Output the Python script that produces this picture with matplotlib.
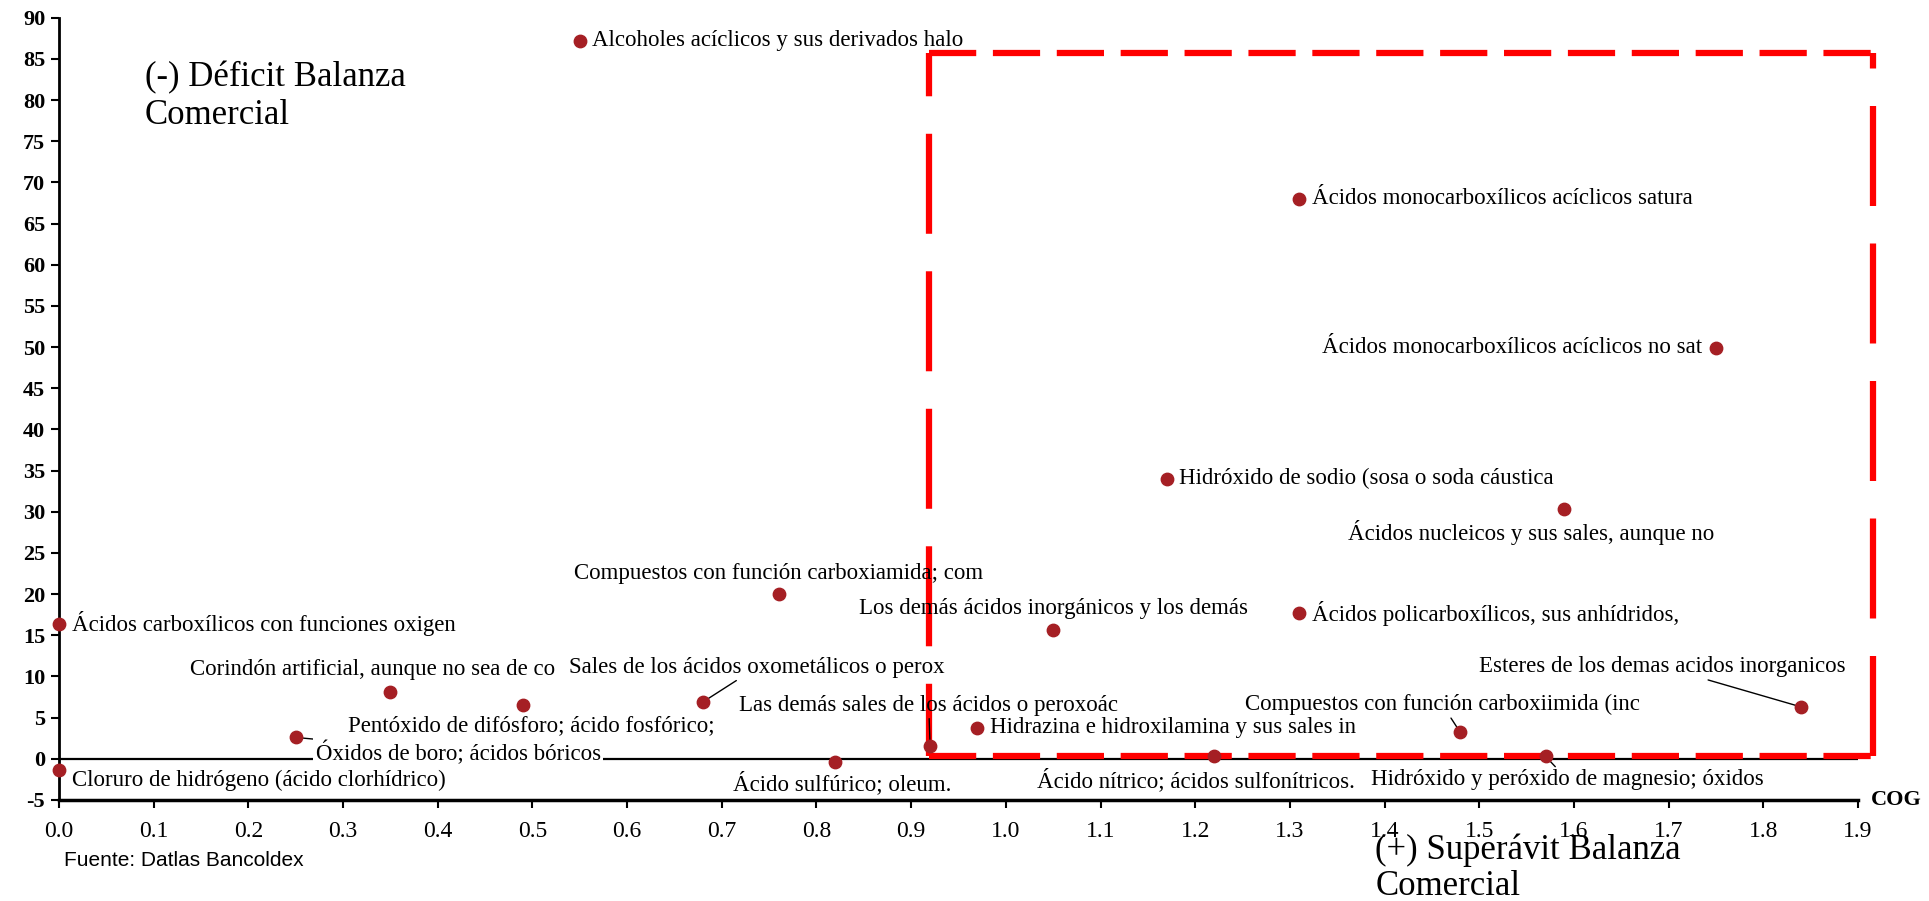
import matplotlib
matplotlib.use('Agg')
import matplotlib.pyplot as plt

# data
productos = [
    "Alcoholes acíclicos y sus derivados halo",
    "Ácidos monocarboxílicos acíclicos satura",
    "Ácidos monocarboxílicos acíclicos no sat",
    "Hidróxido de sodio (sosa o soda cáustica",
    "Ácidos nucleicos y sus sales, aunque no",
    "Compuestos con función carboxiamida; com",
    "Ácidos carboxílicos con funciones oxigen",
    "Ácidos policarboxílicos, sus anhídridos,",
    "Los demás ácidos inorgánicos y los demás",
    "Corindón artificial, aunque no sea de co",
    "Pentóxido de difósforo; ácido fosfórico;",
    "Sales de los ácidos oxometálicos o perox",
    "Esteres de los demas acidos inorganicos",
    "Hidrazina e hidroxilamina y sus sales in",
    "Compuestos con función carboxiimida (inc",
    "Óxidos de boro; ácidos bóricos",
    "Las demás sales de los ácidos o peroxoác",
    "Ácido nítrico; ácidos sulfonítricos.",
    "Hidróxido y peróxido de magnesio; óxidos",
    "Ácido sulfúrico; oleum.",
    "Cloruro de hidrógeno (ácido clorhídrico)",
]
cog = [0.55, 1.31, 1.75, 1.17, 1.59, 0.76, 0.0, 1.31, 1.05, 0.35, 0.49,
       0.68, 1.84, 0.97, 1.48, 0.25, 0.92, 1.22, 1.57, 0.82, 0.0]
balanza = [87.2, 68.0, 49.9, 34.0, 30.3, 20.0, 16.4, 17.7, 15.6, 8.1, 6.5,
           6.9, 6.3, 3.8, 3.2, 2.6, 1.6, 0.3, 0.3, -0.4, -1.3]

# label placement: (dx, dy) in points, ha, leader line
label_pos = [
    ((9, 0), 'left', False),
    ((9, 0), 'left', False),
    ((-10, 0), 'right', False),
    ((9, 0), 'left', False),
    ((-24, -17), 'center', False),
    ((0, 15), 'center', False),
    ((9, 0), 'left', False),
    ((9, 0), 'left', False),
    ((0, 16), 'center', False),
    ((-13, 16), 'center', False),
    ((6, -15), 'center', False),
    ((39, 25), 'center', True),
    ((-100, 29), 'center', True),
    ((9, 0), 'left', False),
    ((-13, 20), 'center', True),
    ((117, -11), 'center', True),
    ((-1, 29), 'center', True),
    ((-13, -17), 'center', False),
    ((16, -17), 'center', True),
    ((5, -15), 'center', False),
    ((9, -8), 'left', False),
]

x_ticks = [i / 10 for i in range(20)]
y_ticks = list(range(-5, 91, 5))

serif = ['Liberation Serif', 'DejaVu Serif']
plt.rcParams['font.family'] = serif
plt.rcParams['lines.scale_dashes'] = False

fig = plt.figure(figsize=(19.29, 9.01), dpi=100)
ax = fig.add_axes([0.0306, 0.1121, 0.9326, 0.8682])

ax.set_xlim(0, 1.9)
ax.set_ylim(-5, 90)

ax.axhline(0, color='black', lw=1.6, zorder=1)

ax.scatter(cog, balanza, s=80, color='#a51f24', zorder=4, clip_on=False)

for name, x, y, (off, ha, leader) in zip(productos, cog, balanza, label_pos):
    kw = {}
    if leader:
        kw['arrowprops'] = dict(arrowstyle='-', color='black', lw=1,
                                shrinkA=0, shrinkB=4)
    bbox = None
    if name.startswith("Óxidos de boro"):
        bbox = dict(boxstyle='square,pad=0.1', fc='white', ec='none')
    ax.annotate(name, (x, y), xytext=off, textcoords='offset points',
                ha=ha, va='center', fontsize=16.5, color='black',
                bbox=bbox, zorder=3, annotation_clip=False, **kw)

# red dashed box for the superavit quadrant
bx0, bx1, by0, by1 = 0.919, 1.916, 0.4, 85.7
hdash = (0, (34, 12))
vdash = (0, (72, 27))
ax.plot([bx0, bx1], [by1, by1], color='#ff0000', lw=4.5, ls=hdash, clip_on=False, zorder=2)
ax.plot([bx0, bx1], [by0, by0], color='#ff0000', lw=4.5, ls=hdash, clip_on=False, zorder=2)
ax.plot([bx0, bx0], [by0, by1], color='#ff0000', lw=4.5, ls=(20, (72, 27)), clip_on=False, zorder=2)
ax.plot([bx1, bx1], [by0, by1], color='#ff0000', lw=4.5, ls=vdash, clip_on=False, zorder=2)

for s in ['top', 'right']:
    ax.spines[s].set_visible(False)
ax.spines['left'].set_linewidth(2)
ax.spines['bottom'].set_linewidth(2.5)

ax.set_xticks(x_ticks)
ax.set_xticklabels([f"{t:.1f}" for t in x_ticks], fontsize=17)
ax.set_yticks(y_ticks)
ax.set_yticklabels([str(t) for t in y_ticks], fontsize=16, fontweight='bold')
ax.tick_params(axis='x', length=6, width=1.5, pad=9)
ax.tick_params(axis='y', length=6, width=1.5, pad=4)

fig.text(0.983, 0.112, "COG", fontsize=16, fontweight='bold', ha='center', va='center')

fig.text(0.075, 0.932, "(-) Déficit Balanza\nComercial", fontsize=25,
         ha='left', va='top', linespacing=1.17)
fig.text(0.713, 0.075, "(+) Superávit Balanza\nComercial", fontsize=25,
         ha='left', va='top', linespacing=1.12)

fig.text(0.033, 0.045, "Fuente: Datlas Bancoldex", fontsize=15,
         family=['Liberation Sans', 'DejaVu Sans'], ha='left', va='center')

fig.savefig('out.png', dpi=100)
